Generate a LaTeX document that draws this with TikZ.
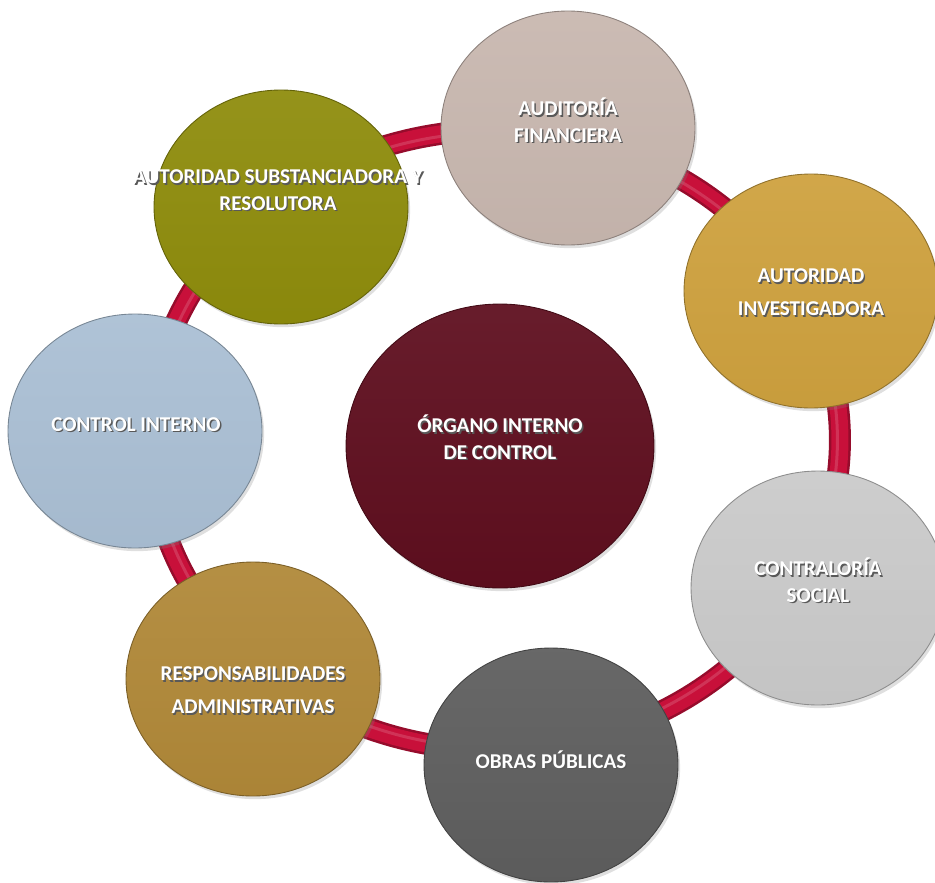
\documentclass[tikz,border=0pt]{standalone}
\usepackage{fontspec}
\setmainfont{Carlito}
\usetikzlibrary{shapes.geometric,shadows}
\definecolor{anillo}{HTML}{C8103A}
\definecolor{cAud}{HTML}{C8B7AF}
\definecolor{cSub}{HTML}{8E8C0C}
\definecolor{cInv}{HTML}{CEA13E}
\definecolor{cCtl}{HTML}{AABFD4}
\definecolor{cOrg}{HTML}{5E0E1E}
\definecolor{cCon}{HTML}{CACACA}
\definecolor{cRes}{HTML}{B08838}
\definecolor{cObr}{HTML}{5E5E5E}
\newcommand{\sombra}[1]{\leavevmode\rlap{\kern0.8pt\raisebox{-0.8pt}{\color{black!65}#1}}#1}
\tikzset{
  disco/.style={ellipse, inner sep=0pt, draw=#1!70!black, line width=0.5pt,
    top color=#1!94!white, bottom color=#1!97!black,
    drop shadow={opacity=0.25, shadow xshift=1.2pt, shadow yshift=-1.8pt}},
  chico/.style={minimum width=5.08cm, minimum height=4.68cm},
  lbl/.style={text=white, align=center, inner sep=0pt, font=\bfseries\fontsize{12}{15}\selectfont},
  lblalto/.style={lbl, font=\bfseries\fontsize{12}{18.8}\selectfont},
}
\begin{document}
\begin{tikzpicture}[x=0.02cm, y=-0.02cm]
   \useasboundingbox (0,0) rectangle (935,882);
   % anillo
   \coordinate (ctr) at (495,440);
   \draw[anillo!75!black, line width=0.44cm] (ctr) ellipse [x radius=6.9cm, y radius=6.2cm];
   \draw[anillo, line width=0.34cm] (ctr) ellipse [x radius=6.9cm, y radius=6.2cm];
   \draw[white, opacity=0.15, line width=0.06cm] (ctr) ellipse [x radius=6.85cm, y radius=6.15cm];
   % discos
   \node[disco=cAud, chico] (aud) at (568,128) {};
   \node[disco=cSub, chico] (sub) at (281,207) {};
   \node[disco=cInv, chico] (inv) at (811,291) {};
   \node[disco=cCtl, chico] (ctl) at (135,431) {};
   \node[disco=cCon, chico] (con) at (818,588) {};
   \node[disco=cRes, chico] (res) at (253,679) {};
   \node[disco=cObr, chico] (obr) at (551,765) {};
   \node[disco=cOrg, minimum width=6.16cm, minimum height=5.68cm] (org) at (500,446) {};
   % textos
   \node[lbl] (aud-t) at (568,121) {\sombra{AUDITORÍA}\\\sombra{FINANCIERA}};
   \node[lbl] (sub-t) at (278,191) {\sombra{AUTORIDAD SUBSTANCIADORA Y}\\\sombra{RESOLUTORA}};
   \node[lblalto] (inv-t) at (811,293) {\sombra{AUTORIDAD}\\\sombra{INVESTIGADORA}};
   \node[lbl] (ctl-t) at (136,425) {\sombra{CONTROL INTERNO}};
   \node[lbl] (org-t) at (500,438) {\sombra{ÓRGANO INTERNO}\\\sombra{DE CONTROL}};
   \node[lbl] (con-t) at (818,581) {\sombra{CONTRALORÍA}\\\sombra{SOCIAL}};
   \node[lblalto] (res-t) at (253,691) {\sombra{RESPONSABILIDADES}\\\sombra{ADMINISTRATIVAS}};
   \node[lbl] (obr-t) at (551,760) {\sombra{OBRAS PÚBLICAS}};
\end{tikzpicture}
\end{document}
